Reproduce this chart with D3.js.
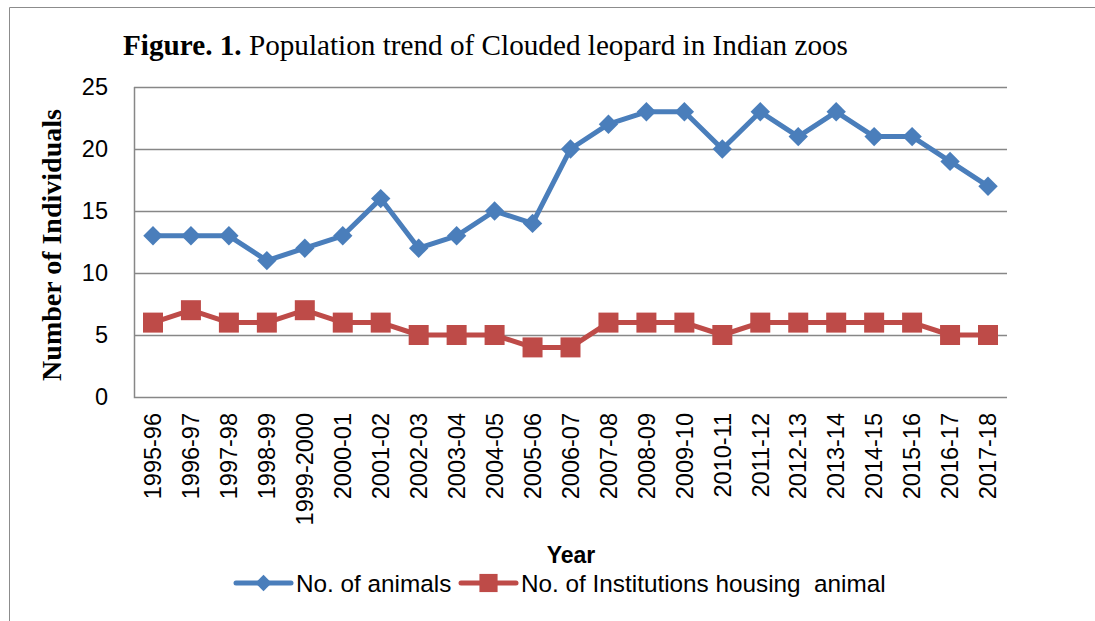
<!DOCTYPE html>
<html>
<head>
<meta charset="utf-8">
<script src="https://cdnjs.cloudflare.com/ajax/libs/d3/7.8.5/d3.min.js"></script>
<style>
  body { margin: 0; background: #fff; }
  svg { display: block; }
</style>
</head>
<body>
<svg id="chart" width="1095" height="621"></svg>
<script>
const years = ['1995-96', '1996-97', '1997-98', '1998-99', '1999-2000', '2000-01', '2001-02', '2002-03',
    '2003-04', '2004-05', '2005-06', '2006-07', '2007-08', '2008-09', '2009-10', '2010-11', '2011-12',
    '2012-13', '2013-14', '2014-15', '2015-16', '2016-17', '2017-18'];
const animals = [13, 13, 13, 11, 12, 13, 16, 12, 13, 15, 14, 20, 22, 23, 23, 20, 23, 21, 23, 21, 21, 19, 17];
const institutions = [6, 7, 6, 6, 7, 6, 6, 5, 5, 5, 4, 4, 6, 6, 6, 5, 6, 6, 6, 6, 6, 5, 5];
const yTicks = [0, 5, 10, 15, 20, 25];
const seriesNames = ['No. of animals', 'No. of Institutions housing  animal'];

const svg = d3.select('#chart');
const margin = { top: 87, right: 88, bottom: 224, left: 134 };
const innerWidth = 1095 - margin.left - margin.right;
const innerHeight = 621 - margin.top - margin.bottom;
const sans = "'Liberation Sans', Arial, sans-serif";
const serif = "'Liberation Serif', 'Times New Roman', serif";
const blue = '#4a7ebb';
const red = '#be4b48';

// outer frame (only top and left edges are inside the picture)
svg.append('path')
    .attr('d', 'M1095,7.5H9.5V621')
    .attr('fill', 'none')
    .attr('stroke', '#8c8c8c');

svg.append('text')
    .attr('x', 123).attr('y', 55)
    .style('font-family', serif)
    .style('font-size', '29.2px')
    .call(t => t.append('tspan').style('font-weight', 'bold').text('Figure. 1.'))
    .call(t => t.append('tspan').text(' Population trend of Clouded leopard in Indian zoos'));

const x = d3.scaleBand().domain(years).range([0, innerWidth]);
const y = d3.scaleLinear().domain([0, 25]).range([innerHeight, 0]);

const g = svg.append('g').attr('transform', `translate(${margin.left},${margin.top})`);

// gridlines
g.append('g')
    .selectAll('line')
    .data(yTicks.slice(1))
    .join('line')
    .attr('x1', 0).attr('x2', innerWidth)
    .attr('y1', d => Math.round(y(d)) + 0.5).attr('y2', d => Math.round(y(d)) + 0.5)
    .attr('stroke', '#878787')
    .attr('stroke-width', 1.5);

// y axis
const yAxis = g.append('g')
    .call(d3.axisLeft(y).tickValues(yTicks).tickSize(0).tickPadding(26))
    .attr('font-family', sans)
    .attr('font-size', 23.5);
yAxis.select('.domain').remove();
yAxis.selectAll('text').attr('fill', '#000');

// x axis labels, rotated
g.append('g')
    .selectAll('text')
    .data(years)
    .join('text')
    .attr('transform', d => `translate(${x(d) + x.bandwidth() / 2},${innerHeight + 16}) rotate(-90)`)
    .attr('text-anchor', 'end')
    .attr('dy', '0.35em')
    .style('font-family', sans)
    .style('font-size', '23.5px')
    .text(d => d);

// plot border (left and bottom)
g.append('path')
    .attr('d', `M0.5,0V${innerHeight + 0.5}H${innerWidth}`)
    .attr('fill', 'none')
    .attr('stroke', '#878787')
    .attr('stroke-width', 1.5);

const line = d3.line()
    .x((d, i) => x(years[i]) + x.bandwidth() / 2)
    .y(d => y(d));

g.append('path')
    .datum(animals)
    .attr('d', line)
    .attr('fill', 'none')
    .attr('stroke', blue)
    .attr('stroke-width', 5)
    .attr('stroke-linejoin', 'round');

g.append('path')
    .datum(institutions)
    .attr('d', line)
    .attr('fill', 'none')
    .attr('stroke', red)
    .attr('stroke-width', 5)
    .attr('stroke-linejoin', 'round');

const diamond = d3.symbol().type(d3.symbolDiamond2).size(240);
const square = d3.symbol().type(d3.symbolSquare).size(400);

g.append('g')
    .selectAll('path')
    .data(animals)
    .join('path')
    .attr('d', d => diamond())
    .attr('transform', (d, i) => `translate(${x(years[i]) + x.bandwidth() / 2},${y(d)})`)
    .attr('fill', blue);

g.append('g')
    .selectAll('path')
    .data(institutions)
    .join('path')
    .attr('d', d => square())
    .attr('transform', (d, i) => `translate(${x(years[i]) + x.bandwidth() / 2},${y(d)})`)
    .attr('fill', red);

// axis titles
svg.append('text')
    .attr('transform', 'translate(61,245) rotate(-90)')
    .attr('text-anchor', 'middle')
    .style('font-family', serif)
    .style('font-size', '28px')
    .style('font-weight', 'bold')
    .text('Number of Individuals');

svg.append('text')
    .attr('x', 571).attr('y', 563)
    .attr('text-anchor', 'middle')
    .style('font-family', sans)
    .style('font-size', '23px')
    .style('font-weight', 'bold')
    .text('Year');

// legend
const legendItems = [
    { name: seriesNames[0], color: blue, symbol: d3.symbol().type(d3.symbolDiamond2).size(170), x0: 236 },
    { name: seriesNames[1], color: red, symbol: d3.symbol().type(d3.symbolSquare).size(330), x0: 461 }
];
const legend = svg.append('g').attr('transform', 'translate(0,583)');
legendItems.forEach(item => {
    const lg = legend.append('g');
    lg.append('line')
        .attr('x1', item.x0).attr('x2', item.x0 + 55)
        .attr('stroke', item.color)
        .attr('stroke-width', 5)
        .attr('stroke-linecap', 'round');
    lg.append('path')
        .attr('d', item.symbol())
        .attr('transform', `translate(${item.x0 + 27.5},0)`)
        .attr('fill', item.color);
    lg.append('text')
        .attr('x', item.x0 + 60)
        .attr('y', 9)
        .style('font-family', sans)
        .style('font-size', '24.3px')
        .style('white-space', 'pre')
        .text(item.name);
});
</script>
</body>
</html>
